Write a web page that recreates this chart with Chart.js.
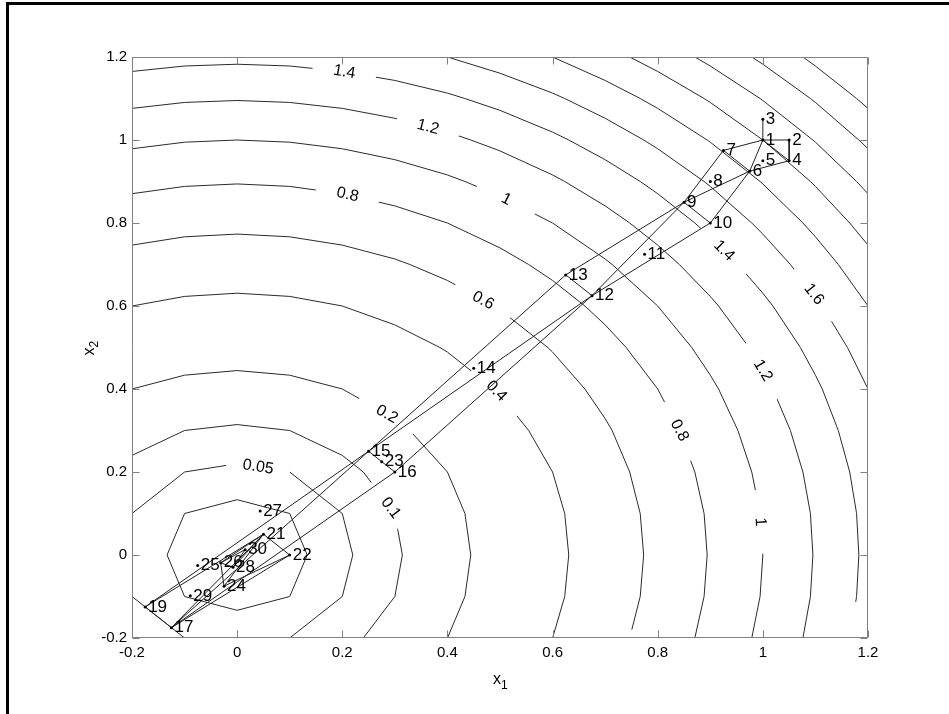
<!DOCTYPE html>
<html><head><meta charset="utf-8">
<script src="https://cdn.jsdelivr.net/npm/chart.js@4.4.1/dist/chart.umd.min.js"></script>
<style>html,body{margin:0;padding:0;background:#fff;}canvas{display:block;}</style>
</head><body>
<canvas id="c" width="949" height="714" style="width:949px;height:714px"></canvas>
<script>
// ---- tick labels ----
const xTickValues = [-0.2, 0, 0.2, 0.4, 0.6, 0.8, 1, 1.2];
const xTickLabels = ['-0.2', '0', '0.2', '0.4', '0.6', '0.8', '1', '1.2'];
const yTickValues = [-0.2, 0, 0.2, 0.4, 0.6, 0.8, 1, 1.2];
const yTickLabels = ['-0.2', '0', '0.2', '0.4', '0.6', '0.8', '1', '1.2'];

// ---- search points (numbered 1..30) ----
const pointNames = ['1','2','3','4','5','6','7','8','9','10','11','12','13','14','15','16','17','18','19','20','21','22','23','24','25','26','27','28','29','30'];
const pointX = [1, 1.05, 1, 1.05, 1, 0.975, 0.925, 0.9, 0.85, 0.9, 0.775, 0.675, 0.625, 0.45, 0.25, 0.3, -0.125, -0.525, -0.175, -0.55, 0.05, 0.1, 0.275, -0.025, -0.075, -0.0313, 0.0438, -0.0078, -0.0891, 0.0152];
const pointY = [1, 1, 1.05, 0.95, 0.95, 0.925, 0.975, 0.9, 0.85, 0.8, 0.725, 0.625, 0.675, 0.45, 0.25, 0.2, -0.175, -0.575, -0.125, -0.55, 0.05, 0, 0.225, -0.075, -0.025, -0.0188, 0.1063, -0.0297, -0.0984, 0.0129];

// ---- simplex edges (point numbers) ----
const edgeFrom = [1,1,2,1,4,1,6,1,7,6,9,6,10,9,12,9,13,12,15,12,16,15,17,15,19,17,21,17,22,21,24,21,26,21,28,26];
const edgeTo   = [2,3,4,4,6,6,7,7,9,9,10,10,12,12,13,13,15,15,16,16,17,17,19,19,21,21,22,22,24,24,26,26,28,28,30,30];

// ---- contour lines, [x1, x2] pairs, null = break ----
const c002 = [[0.1333,0],[0.1,0.1],[0,0.1333],[-0.1,0.1],[-0.1333,0],[-0.1,-0.1],[0,-0.1333],[0.1,-0.1],[0.1333,0]];
const c005 = [[-0.1,-0.2],[-0.2,-0.1],null,[-0.2,0.1],[-0.1,0.2],[0,0.22],[0.1,0.2],[0.2,0.1],[0.22,0],[0.2,-0.1],[0.1,-0.2]];
const c01 = [[-0.2,0.24],[-0.1,0.3],[0,0.3143],[0.1,0.3],[0.2,0.24],[0.24,0.2],[0.3,0.1],[0.3143,0],[0.3,-0.1],[0.24,-0.2]];
const c02 = [[-0.2,0.4],[-0.1,0.4333],[0,0.4444],[0.1,0.4333],[0.2,0.4],[0.3,0.3286],[0.3286,0.3],[0.4,0.2],[0.4333,0.1],[0.4444,0],[0.4333,-0.1],[0.4,-0.2]];
const c04 = [[-0.2,0.6],[-0.1,0.6231],[0,0.6308],[0.1,0.6231],[0.2,0.6],[0.3,0.5545],[0.3857,0.5],[0.4,0.4889],[0.4889,0.4],[0.5,0.3857],[0.5545,0.3],[0.6,0.2],[0.6231,0.1],[0.6308,0],[0.6231,-0.1],[0.6,-0.2]];
const c06 = [[-0.2,0.7467],[-0.1,0.7667],[0,0.7733],[0.1,0.7667],[0.2,0.7467],[0.3,0.7133],[0.3286,0.7],[0.4,0.6615],[0.4889,0.6],[0.5,0.5909],[0.5909,0.5],[0.6,0.4889],[0.6615,0.4],[0.7,0.3286],[0.7133,0.3],[0.7467,0.2],[0.7667,0.1],[0.7733,0],[0.7667,-0.1],[0.7507,-0.18]];
const c08 = [[-0.2,0.8706],[-0.1,0.8882],[0,0.8941],[0.1,0.8882],[0.2,0.8706],[0.3,0.8412],[0.4,0.8],[0.5,0.74],[0.5545,0.7],[0.6,0.6615],[0.6615,0.6],[0.7,0.5545],[0.74,0.5],[0.8,0.4],[0.8412,0.3],[0.8706,0.2],[0.8882,0.1],[0.8941,0],[0.8882,-0.1],[0.8706,-0.2]];
const c10 = [[-0.2,0.9789],[-0.1,0.9947],[0,1],[0.1,0.9947],[0.2,0.9789],[0.3,0.9526],[0.4,0.9158],[0.4333,0.9],[0.5,0.8647],[0.6,0.8],[0.7,0.7133],[0.7133,0.7],[0.8,0.6],[0.8647,0.5],[0.9,0.4333],[0.9158,0.4],[0.9526,0.3],[0.9789,0.2],[0.9947,0.1],[1,0],[0.9947,-0.1],[0.9789,-0.2]];
const c12 = [[-0.2,1.0762],[-0.1,1.0905],[0,1.0952],[0.1,1.0905],[0.2,1.0762],[0.3,1.0524],[0.4,1.019],[0.4444,1],[0.5,0.9737],[0.6,0.9158],[0.6231,0.9],[0.7,0.8412],[0.7467,0.8],[0.8,0.7467],[0.8412,0.7],[0.9,0.6231],[0.9158,0.6],[0.9737,0.5],[1,0.4444],[1.019,0.4],[1.0524,0.3],[1.0762,0.2],[1.0905,0.1],[1.0952,0],[1.0905,-0.1],[1.0762,-0.2]];
const c14 = [[-0.2,1.1652],[-0.1,1.1783],[0,1.1826],[0.1,1.1783],[0.2,1.1652],[0.3,1.1435],[0.4,1.113],[0.4333,1.1],[0.5,1.0714],[0.6,1.019],[0.6308,1],[0.7,0.9526],[0.7667,0.9],[0.8,0.8706],[0.8706,0.8],[0.9,0.7667],[0.9526,0.7],[1,0.6308],[1.019,0.6],[1.0714,0.5],[1.1,0.4333],[1.113,0.4],[1.1435,0.3],[1.1652,0.2],[1.1783,0.1],[1.1826,0],[1.1783,-0.1],[1.1766,-0.113]];
const c16 = [[0.4,1.2],[0.5,1.1609],[0.6,1.113],[0.6231,1.1],[0.7,1.0524],[0.7733,1],[0.8,0.9789],[0.8882,0.9],[0.9,0.8882],[0.9789,0.8],[1,0.7733],[1.0524,0.7],[1.1,0.6231],[1.113,0.6],[1.1609,0.5],[1.2,0.4]];
const c18 = [[0.6,1.2],[0.7,1.1435],[0.7667,1.1],[0.8,1.0762],[0.8941,1],[0.9,0.9947],[0.9947,0.9],[1,0.8941],[1.0762,0.8],[1.1,0.7667],[1.1435,0.7],[1.2,0.6]];
const c20 = [[0.7467,1.2],[0.8,1.1652],[0.8882,1.1],[0.9,1.0905],[1,1],[1.0905,0.9],[1.1,0.8882],[1.1652,0.8],[1.2,0.7467]];
const c22 = [[0.8706,1.2],[0.9,1.1783],[0.9947,1.1],[1,1.0952],[1.0952,1],[1.1,0.9947],[1.1783,0.9],[1.2,0.8706]];
const c24 = [[0.9789,1.2],[1,1.1826],[1.0905,1.1],[1.1,1.0905],[1.1826,1],[1.2,0.9789]];
const c26 = [[1.0762,1.2],[1.1,1.1783],[1.1783,1.1],[1.2,1.0762]];
const contourLevels = [0.02, 0.05, 0.1, 0.2, 0.4, 0.6, 0.8, 1, 1.2, 1.4, 1.6, 1.8, 2, 2.2, 2.4, 2.6];
const contourLines  = [c002, c005, c01, c02, c04, c06, c08, c10, c12, c14, c16, c18, c20, c22, c24, c26];

// ---- inline contour labels ----
const contourLabelText  = ['1.4','1.2','0.8','1','0.6','0.4','0.2','0.05','0.1','1.4','1.6','1.2','0.8','1'];
const contourLabelLevel = [1.4, 1.2, 0.8, 1, 0.6, 0.4, 0.2, 0.05, 0.1, 1.4, 1.6, 1.2, 0.8, 1];
const contourLabelX     = [0.204, 0.363, 0.21, 0.512, 0.468, 0.493, 0.285, 0.04, 0.292, 0.926, 1.097, 1.0, 0.8412, 0.995];
const contourLabelY     = [1.164, 1.031, 0.868, 0.857, 0.613, 0.395, 0.339, 0.212, 0.113, 0.733, 0.628, 0.4444, 0.3, 0.08];

const FONT = 'Arial, "Liberation Sans", Helvetica, sans-serif';
const toXY = p => p ? {x: p[0], y: p[1]} : {x: null, y: null};

const datasets = [];
// markers
datasets.push({
  data: pointX.map((x, i) => ({x: x, y: pointY[i]})),
  showLine: false, pointRadius: 1.5, pointBackgroundColor: '#000', pointBorderWidth: 0,
  order: 0
});
// path edges
const edgeData = [];
edgeFrom.forEach((a, i) => {
  const b = edgeTo[i];
  edgeData.push({x: pointX[a-1], y: pointY[a-1]}, {x: pointX[b-1], y: pointY[b-1]}, {x: null, y: null});
});
datasets.push({
  data: edgeData, showLine: true, spanGaps: false, pointRadius: 0,
  borderColor: '#222', borderWidth: 1, tension: 0, fill: false, order: 1
});
const PATH_INDEX = 1;
contourLines.forEach(line => {
  datasets.push({
    data: line.map(toXY), showLine: true, spanGaps: false, pointRadius: 0,
    borderColor: '#2a2a2a', borderWidth: 1, tension: 0, fill: false, order: 2
  });
});

function labelAngle(line, px, py, xs, ys) {
  let best = Infinity, ang = 0;
  for (let i = 0; i < line.length - 1; i++) {
    const a = line[i], b = line[i+1];
    if (!a || !b) continue;
    const ax = xs.getPixelForValue(a[0]), ay = ys.getPixelForValue(a[1]);
    const bx = xs.getPixelForValue(b[0]), by = ys.getPixelForValue(b[1]);
    const dx = bx - ax, dy = by - ay, L = dx*dx + dy*dy;
    let t = ((px-ax)*dx + (py-ay)*dy) / L; t = Math.max(0, Math.min(1, t));
    const d = Math.hypot(ax + t*dx - px, ay + t*dy - py);
    if (d < best) { best = d; ang = Math.atan2(dy, dx); }
  }
  if (ang > Math.PI/2) ang -= Math.PI;
  if (ang <= -Math.PI/2) ang += Math.PI;
  return ang;
}

const decorPlugin = {
  id: 'decor',
  beforeDatasetDraw(chart, args) {
    if (args.index !== PATH_INDEX) return;
    const ctx = chart.ctx, xs = chart.scales.x, ys = chart.scales.y;
    contourLabelText.forEach((t, i) => {
      const px = xs.getPixelForValue(contourLabelX[i]);
      const py = ys.getPixelForValue(contourLabelY[i]);
      const line = contourLines[contourLevels.indexOf(contourLabelLevel[i])];
      const ang = labelAngle(line, px, py, xs, ys);
      ctx.save();
      ctx.translate(px, py); ctx.rotate(ang);
      ctx.fillStyle = '#fff';
      ctx.fillRect(-32, -7, 64, 14);
      ctx.fillStyle = '#000';
      ctx.font = '16px ' + FONT;
      ctx.textAlign = 'center'; ctx.textBaseline = 'middle';
      ctx.fillText(t, 0, 0);
      ctx.restore();
    });
  },
  afterDatasetsDraw(chart) {
    const ctx = chart.ctx, xs = chart.scales.x, ys = chart.scales.y, ca = chart.chartArea;
    ctx.save();
    ctx.fillStyle = '#000';
    ctx.font = '17px ' + FONT;
    ctx.textAlign = 'left'; ctx.textBaseline = 'middle';
    pointNames.forEach((n, i) => {
      const px = xs.getPixelForValue(pointX[i]), py = ys.getPixelForValue(pointY[i]);
      if (px < ca.left || px > ca.right || py < ca.top || py > ca.bottom) return;
      ctx.fillText(n, px + 3, py);
    });
    ctx.restore();
  },
  afterDraw(chart) {
    const ctx = chart.ctx, xs = chart.scales.x, ys = chart.scales.y, ca = chart.chartArea;
    ctx.save();
    // axes box and inward ticks
    ctx.strokeStyle = '#808080'; ctx.lineWidth = 1;
    const L = Math.round(ca.left) + 0.5, R = Math.round(ca.right) - 0.5;
    const T = Math.round(ca.top) + 0.5, B = Math.round(ca.bottom) - 0.5;
    ctx.beginPath();
    ctx.rect(L, T, R - L, B - T);
    xTickValues.forEach(v => {
      const p = Math.round(xs.getPixelForValue(v)) + 0.5;
      ctx.moveTo(p, B); ctx.lineTo(p, B - 7);
      ctx.moveTo(p, T); ctx.lineTo(p, T + 7);
    });
    yTickValues.forEach(v => {
      const p = Math.round(ys.getPixelForValue(v)) + 0.5;
      ctx.moveTo(L, p); ctx.lineTo(L + 7, p);
      ctx.moveTo(R, p); ctx.lineTo(R - 7, p);
    });
    ctx.stroke();
    // axis titles x1, x2
    ctx.fillStyle = '#000';
    ctx.textAlign = 'left'; ctx.textBaseline = 'alphabetic';
    const cx = (ca.left + ca.right) / 2;
    ctx.font = '16px ' + FONT;
    ctx.fillText('x', cx - 7, 684);
    ctx.font = '12px ' + FONT;
    ctx.fillText('1', cx + 1, 689);
    const cy = (ca.top + ca.bottom) / 2;
    ctx.translate(94, cy + 2); ctx.rotate(-Math.PI / 2);
    ctx.font = '16px ' + FONT;
    ctx.fillText('x', -6, 0);
    ctx.font = '12px ' + FONT;
    ctx.fillText('2', 2, 4);
    ctx.restore();
    // outer frame (top and left edges)
    ctx.save();
    ctx.fillStyle = '#000';
    ctx.fillRect(6, 2, 943, 3);
    ctx.fillRect(6, 2, 3, 712);
    ctx.restore();
  }
};

new Chart(document.getElementById('c'), {
  type: 'scatter',
  data: { datasets: datasets },
  options: {
    responsive: false, animation: false, devicePixelRatio: 1,
    events: [],
    layout: { padding: { left: 0, top: 57, right: 81, bottom: 0 } },
    plugins: { legend: { display: false }, tooltip: { enabled: false } },
    scales: {
      x: {
        type: 'linear', min: -0.2, max: 1.2,
        grid: { display: false, drawTicks: false }, border: { display: false },
        afterBuildTicks: s => { s.ticks = xTickValues.map(v => ({ value: v })); },
        afterFit: s => { s.height = 76; },
        ticks: { autoSkip: false, maxRotation: 0, padding: 6, color: '#000',
                 font: { family: FONT, size: 15 },
                 callback: (v, i) => xTickLabels[i] }
      },
      y: {
        type: 'linear', min: -0.2, max: 1.2,
        grid: { display: false, drawTicks: false }, border: { display: false },
        afterBuildTicks: s => { s.ticks = yTickValues.map(v => ({ value: v })); },
        afterFit: s => { s.width = 132; },
        ticks: { autoSkip: false, padding: 5, color: '#000',
                 font: { family: FONT, size: 15 },
                 callback: (v, i) => yTickLabels[i] }
      }
    }
  },
  plugins: [decorPlugin]
});
</script>
</body></html>
